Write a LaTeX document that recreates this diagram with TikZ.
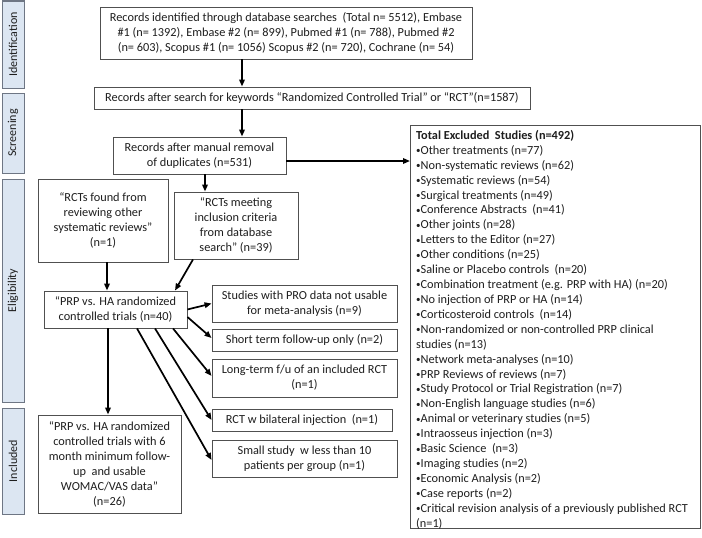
\documentclass[tikz,border=0pt]{standalone}
\usepackage{fontspec}
\setmainfont{Carlito}
\usetikzlibrary{arrows.meta,calc}
\definecolor{phasefill}{RGB}{220,230,242}
\definecolor{phasedraw}{RGB}{110,118,132}
\definecolor{boxdraw}{RGB}{80,80,80}
\definecolor{txt}{RGB}{30,30,30}
\newcommand{\bul}{{\fontsize{9pt}{9pt}\selectfont\raisebox{0.6pt}{•}}}
\tikzset{
  box/.style={draw=boxdraw, line width=0.9pt, inner sep=2pt, align=center, text=txt,
    font=\fontsize{12.3pt}{15pt}\selectfont},
  phase/.style={draw=phasedraw, fill=phasefill, line width=1pt, inner sep=0pt},
  phasetext/.style={rotate=90, text=txt, font=\fontsize{12pt}{14pt}\selectfont},
  arr/.style={-{Triangle[length=7pt,width=5.5pt]}, line width=1.7pt, black}
}
\begin{document}
\begin{tikzpicture}[x=1pt,y=-1pt]
\useasboundingbox (0,0) rectangle (702,538);
\fill[white] (0,0) rectangle (702,538);
% phase labels
\node[phase, minimum width=22pt, minimum height=87pt] (pid) at (13,44.5) {};
\node[phasetext] (pidt) at (pid.center) {Identification};
\node[phase, minimum width=22pt, minimum height=80pt] (psc) at (13,133) {};
\node[phasetext] (psct) at (psc.center) {Screening};
\node[phase, minimum width=22pt, minimum height=223pt] (pel) at (13,290.5) {};
\node[phasetext] (pelt) at (pel.center) {Eligibility};
\node[phase, minimum width=22pt, minimum height=106pt] (pin) at (13,461) {};
\node[phasetext] (pint) at (pin.center) {Included};
% boxes
\node[box, minimum width=372pt, minimum height=52pt] (b1) at (286,33)
  {Records identified through database searches\ \ (Total n= 5512), Embase\\
   \#1 (n= 1392), Embase \#2 (n= 899), Pubmed \#1 (n= 788), Pubmed \#2\\
   (n= 603), Scopus \#1 (n= 1056) Scopus \#2 (n= 720), Cochrane (n= 54)};
\node[box, minimum width=436pt, minimum height=22pt] (b2) at (312,98)
  {Records after search for keywords “Randomized Controlled Trial” or “RCT”(n=1587)};
\node[box, minimum width=173pt, minimum height=37pt] (b3) at (199.5,155.5)
  {Records after manual removal\\ of duplicates (n=531)};
\node[box, minimum width=130pt, minimum height=83pt] (bfound) at (103,220.5)
  {“RCTs found from\\ reviewing other\\ systematic reviews”\\ (n=1)};
\node[box, minimum width=124pt, minimum height=67pt] (bmeet) at (236,225.5)
  {“RCTs meeting\\ inclusion criteria\\ from database\\ search” (n=39)};
\node[box, minimum width=143pt, minimum height=37pt] (bprp) at (115.5,309.5)
  {“PRP vs. HA randomized\\ controlled trials (n=40)};
\node[box, minimum width=185pt, minimum height=37pt] (bpro) at (304.5,303.5)
  {Studies with PRO data not usable\\ for meta-analysis (n=9)};
\node[box, minimum width=185pt, minimum height=22pt] (bshort) at (304.5,340)
  {Short term follow-up only (n=2)};
\node[box, minimum width=185pt, minimum height=38pt] (blong) at (304.5,378)
  {Long-term f/u of an included RCT\\ (n=1)};
\node[box, minimum width=180pt, minimum height=22pt] (bbil) at (302,420)
  {RCT w bilateral injection\ \ (n=1)};
\node[box, minimum width=185pt, minimum height=37pt] (bsmall) at (304.5,458.5)
  {Small study\ \ w less than 10\\ patients per group (n=1)};
\node[box, minimum width=143pt, minimum height=98pt] (bincl) at (109.5,464)
  {“PRP vs. HA randomized\\ controlled trials with 6\\ month minimum follow-\\ up\ \ and usable\\ WOMAC/VAS data”\\ (n=26)};
\node[box, minimum width=290pt, minimum height=403pt, anchor=north west,
      inner sep=0pt] (bexcl) at (410,125) {};
\node[align=left, anchor=north west, inner sep=0pt, text=txt,
      font=\fontsize{12.3pt}{14.92pt}\selectfont] (exl) at (416,130)
  {\textbf{Total Excluded\ \ Studies (n=492)}\\
   \bul Other treatments (n=77)\\
   \bul Non-systematic reviews (n=62)\\
   \bul Systematic reviews (n=54)\\
   \bul Surgical treatments (n=49)\\
   \bul Conference Abstracts\ \ (n=41)\\
   \bul Other joints (n=28)\\
   \bul Letters to the Editor (n=27)\\
   \bul Other conditions (n=25)\\
   \bul Saline or Placebo controls\ \ (n=20)\\
   \bul Combination treatment (e.g. PRP with HA) (n=20)\\
   \bul No injection of PRP or HA (n=14)\\
   \bul Corticosteroid controls\ \ (n=14)\\
   \bul Non-randomized or non-controlled PRP clinical\\
   studies (n=13)\\
   \bul Network meta-analyses (n=10)\\
   \bul PRP Reviews of reviews (n=7)\\
   \bul Study Protocol or Trial Registration (n=7)\\
   \bul Non-English language studies (n=6)\\
   \bul Animal or veterinary studies (n=5)\\
   \bul Intraosseus injection (n=3)\\
   \bul Basic Science\ \ (n=3)\\
   \bul Imaging studies (n=2)\\
   \bul Economic Analysis (n=2)\\
   \bul Case reports (n=2)\\
   \bul Critical revision analysis of a previously published RCT\\
   (n=1)};
% connectors
\draw[arr] ([xshift=-44pt]b1.south) -- ([xshift=-70pt]b2.north);
\draw[arr] ([xshift=-70pt]b2.south) -- ([xshift=42.5pt]b3.north);
\coordinate (e3) at ([yshift=-5.5pt]b3.east);
\draw[arr] (e3) -- (e3 -| bexcl.west);
\draw[arr] ([xshift=5.5pt]b3.south) -- ([xshift=-31pt]bmeet.north);
\draw[arr] ([xshift=4pt]bfound.south) -- ([xshift=-8.5pt]bprp.north);
\draw[arr] ([xshift=-43pt]bmeet.south) -- ([xshift=59.5pt]bprp.north);
\draw[arr] (bprp.east) -- (bpro.west);
\draw[arr] ([yshift=-7.5pt]bprp.east) -- ([yshift=2pt]bshort.west);
\draw[arr] ([xshift=57.5pt]bprp.south) -- ([yshift=2pt]blong.west);
\draw[arr] ([xshift=39.5pt]bprp.south) -- (bbil.west);
\draw[arr] ([xshift=21.5pt]bprp.south) -- ([yshift=-1.5pt]bsmall.west);
\draw[arr] ([xshift=-7.5pt]bprp.south) -- ([xshift=-1.5pt]bincl.north);
\end{tikzpicture}
\end{document}
